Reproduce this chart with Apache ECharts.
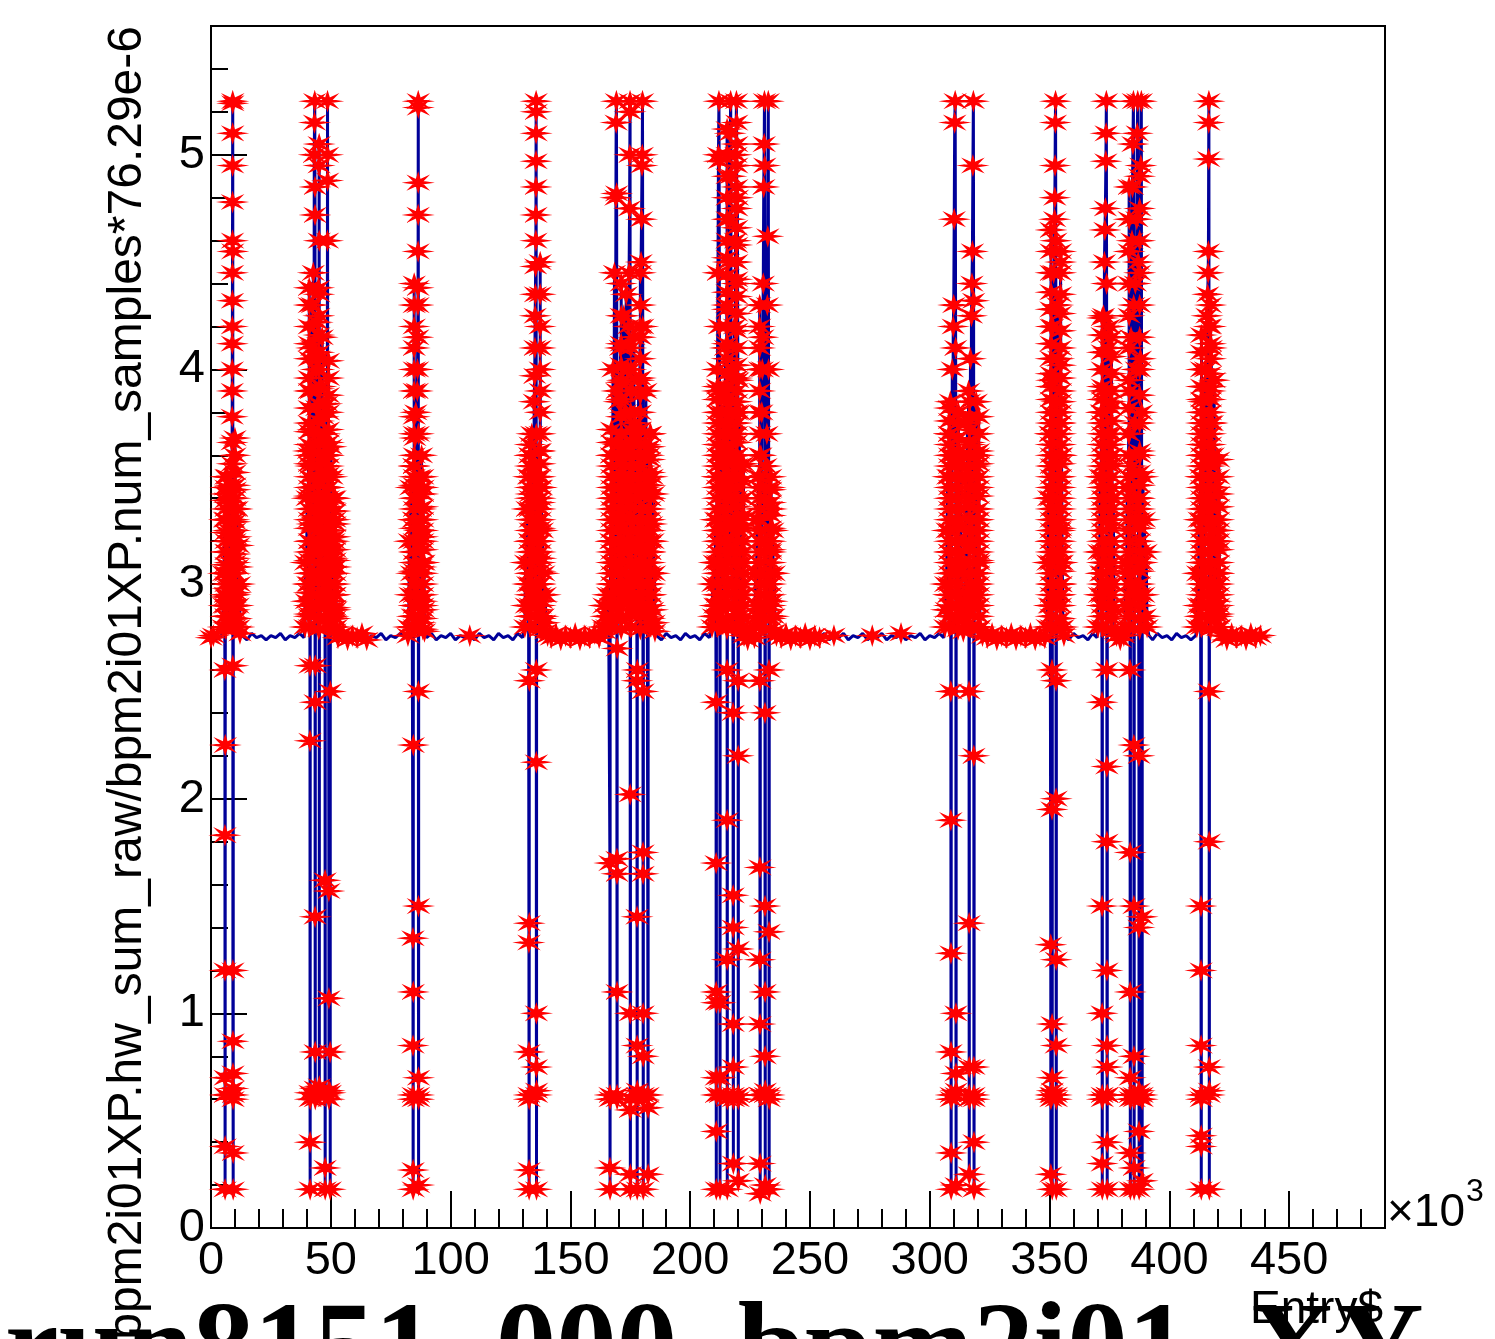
<!DOCTYPE html>
<html>
<head>
<meta charset="utf-8">
<script src="https://cdn.jsdelivr.net/npm/echarts@6/dist/echarts.min.js"></script>
<style>
html,body{margin:0;padding:0;background:#fff;}
#chart{width:1495px;height:1339px;}
</style>
</head>
<body>
<div id="chart"></div>
<script>
// ---- Data: Entry$ (x10^3) vs bpm2i01XP.hw_sum_raw/bpm2i01XP.num_samples*76.29e-6 ----
const xMajorTicks = [0, 50, 100, 150, 200, 250, 300, 350, 400, 450];
const yMajorTicks = [0, 1, 2, 3, 4, 5];

// baseline stretches between beam trips
const base0 = [[0,2.75],[1,2.76],[2,2.74],[3,2.76],[4,2.75],[4.6,2.77]];
const base1 = [[13,2.76],[15,2.74],[17,2.77],[19,2.75],[21,2.76],[23,2.74],[25,2.76],[27,2.75],[29,2.77],[31,2.74],[33,2.76],[35,2.75],[37,2.77],[38.8,2.75]];
const base2 = [[53,2.75],[55,2.77],[57,2.74],[59,2.76],[61,2.75],[63,2.77],[65,2.74],[67,2.76],[69,2.75],[71,2.77],[73,2.74],[75,2.76],[77,2.75],[79,2.77],[81,2.75],[82.2,2.76]];
const base3 = [[90,2.75],[92,2.77],[94,2.74],[96,2.76],[98,2.75],[100,2.77],[102,2.74],[104,2.76],[106,2.75],[108,2.76],[110,2.74],[112,2.77],[114,2.75],[116,2.76],[118,2.74],[120,2.77],[122,2.75],[124,2.76],[126,2.74],[128,2.77],[130,2.75]];
const base4 = [[140.5,2.76],[142,2.75],[144,2.77],[146,2.74],[148,2.76],[150,2.75],[152,2.77],[154,2.74],[156,2.76],[158,2.75],[160,2.77],[162,2.75],[163,2.76]];
const base5 = [[186,2.76],[188,2.74],[190,2.77],[192,2.75],[194,2.76],[196,2.74],[198,2.77],[200,2.75],[202,2.76],[204,2.74],[206,2.77],[208,2.75]];
const base6 = [[222.5,2.76],[224,2.74],[225.5,2.77],[226.8,2.75]];
const base7 = [[236,2.76],[238,2.75],[240,2.77],[242,2.74],[244,2.76],[246,2.75],[248,2.77],[250,2.74],[252,2.76],[254,2.75],[256,2.77],[258,2.74],[260,2.76],[262,2.75],[264,2.77],[266,2.74],[268,2.76],[270,2.75],[272,2.77],[274,2.74],[276,2.76],[278,2.75],[280,2.77],[282,2.74],[284,2.76],[286,2.75],[288,2.77],[290,2.74],[292,2.76],[294,2.75],[296,2.77],[298,2.74],[300,2.76],[302,2.75],[304,2.77],[305.8,2.75]];
const base8 = [[322,2.76],[324,2.75],[326,2.77],[328,2.74],[330,2.76],[332,2.75],[334,2.77],[336,2.74],[338,2.76],[340,2.75],[342,2.77],[344,2.74],[346,2.76],[348,2.75]];
const base9 = [[356,2.76],[358,2.74],[360,2.77],[362,2.75],[364,2.76],[366,2.74],[368,2.77],[369.8,2.75]];
const base10 = [[378,2.76],[379.5,2.74],[381,2.76]];
const base11 = [[391.5,2.76],[393,2.74],[395,2.77],[397,2.75],[399,2.76],[401,2.74],[403,2.77],[405,2.75],[407,2.76],[409,2.74],[411,2.76]];
const base12 = [[422,2.76],[424,2.74],[426,2.77],[428,2.75],[430,2.76],[432,2.74],[434,2.77],[436,2.75],[438,2.76]];

// beam-trip bursts (sequential samples)
const burstA = [[5.0,2.8],[5.2,3.05],[5.4,2.9],[5.6,3.3],[5.8,2.6],[5.82,1.83],[5.84,1.2],[5.86,0.62],[5.88,0.18],[5.9,0.38],[5.92,0.7],[5.94,2.25],[6.0,2.95],[6.2,3.42],[6.4,2.85],[6.6,3.15],[6.8,3.5],[7.0,2.98],[7.2,3.25],[7.4,2.82],[7.6,3.38],[7.8,3.1],[8.0,2.92],[8.2,3.46],[8.4,3.2],[8.6,3.02],[8.8,3.56],[8.82,3.66],[8.84,3.78],[8.86,3.9],[8.88,4.0],[8.9,4.12],[8.92,4.2],[8.94,4.32],[8.96,4.45],[8.98,4.6],[9.0,4.78],[9.02,4.95],[9.04,5.1],[9.06,5.25],[9.08,5.24],[9.1,4.55],[9.12,2.62],[9.14,1.2],[9.16,0.87],[9.18,0.72],[9.2,0.65],[9.22,0.6],[9.24,0.35],[9.26,0.18],[9.28,0.62],[9.3,2.95],[9.5,3.3],[9.7,2.88],[9.9,3.12],[10.1,3.44],[10.3,2.96],[10.5,3.22],[10.7,2.84],[10.9,3.35],[11.1,3.08],[11.3,2.9],[11.5,3.18],[11.7,2.8],[11.9,3.0],[12.1,2.77]];
const burstB = [[39.2,2.8],[39.5,3.1],[39.8,2.92],[40.1,3.4],[40.4,3.0],[40.7,3.62],[41.0,2.86],[41.3,2.62],[41.32,2.27],[41.34,0.63],[41.36,0.4],[41.38,0.18],[41.4,0.6],[41.42,3.2],[41.6,3.55],[41.8,3.9],[42.0,4.1],[42.1,3.28],[42.3,4.3],[42.5,3.72],[42.7,4.45],[42.9,3.05],[43.1,5.0],[43.2,5.15],[43.3,5.25],[43.4,4.85],[43.42,4.72],[43.44,2.45],[43.46,1.45],[43.48,0.82],[43.5,0.65],[43.52,0.6],[43.54,2.62],[43.7,3.35],[43.9,4.0],[44.1,3.82],[44.3,4.22],[44.5,2.95],[44.7,3.48],[44.9,4.38],[45.1,4.05],[45.12,4.95],[45.14,5.05],[45.16,4.6],[45.18,2.9],[45.2,0.62],[45.22,0.66],[45.24,3.15],[45.4,3.66],[45.6,2.84],[45.8,3.92],[46.0,3.25],[46.2,3.58],[46.4,4.15],[46.6,3.02],[46.8,3.78],[47.0,3.42],[47.2,2.9],[47.4,3.7],[47.6,3.1],[47.62,1.62],[47.64,0.28],[47.66,0.18],[47.68,0.62],[47.7,3.52],[47.9,3.3],[48.1,2.98],[48.3,3.84],[48.5,3.18],[48.6,4.6],[48.62,5.0],[48.64,5.25],[48.66,4.88],[48.68,3.6],[48.8,3.05],[49.0,3.45],[49.2,1.57],[49.22,1.07],[49.24,0.64],[49.26,0.6],[49.28,2.88],[49.5,3.38],[49.7,3.0],[49.72,0.82],[49.74,0.63],[49.76,0.18],[49.78,2.5],[49.9,3.25],[50.1,3.64],[50.3,2.92],[50.5,3.5],[50.7,3.12],[50.9,2.85],[51.1,3.4],[51.3,3.2],[51.5,2.95],[51.7,3.3],[51.9,2.88],[52.1,3.08],[52.3,2.8]];
const burstC = [[82.5,2.8],[82.8,3.2],[83.1,2.95],[83.4,3.45],[83.7,3.05],[84.0,2.85],[84.3,1.35],[84.32,0.85],[84.34,0.62],[84.36,0.27],[84.38,0.18],[84.4,0.6],[84.42,1.1],[84.44,2.25],[84.5,3.3],[84.7,3.55],[84.9,2.9],[85.1,3.68],[85.3,3.15],[85.5,3.8],[85.7,3.0],[85.9,3.4],[86.1,3.9],[86.2,4.0],[86.3,4.15],[86.4,4.3],[86.42,4.38],[86.44,4.55],[86.46,4.72],[86.48,4.87],[86.5,5.25],[86.52,5.22],[86.54,3.7],[86.56,2.5],[86.58,1.5],[86.6,0.7],[86.62,0.62],[86.64,0.2],[86.66,0.6],[86.68,2.9],[86.9,3.25],[87.1,3.5],[87.3,2.82],[87.5,3.35],[87.7,3.08],[87.9,3.6],[88.1,2.92],[88.3,3.22],[88.5,3.45],[88.7,2.88],[88.9,3.1],[89.1,2.78]];
const burstD = [[131.0,2.8],[131.3,3.1],[131.6,2.9],[131.9,3.35],[132.2,3.0],[132.5,3.5],[132.7,1.33],[132.72,0.82],[132.74,0.62],[132.76,0.27],[132.78,0.18],[132.8,0.6],[132.82,1.42],[132.84,2.55],[132.9,3.2],[133.1,3.6],[133.3,2.85],[133.5,3.42],[133.7,3.05],[133.9,3.7],[134.1,3.25],[134.3,2.95],[134.5,3.55],[134.7,3.15],[134.9,3.85],[135.1,3.97],[135.2,4.1],[135.3,4.25],[135.4,4.35],[135.5,4.48],[135.6,4.6],[135.62,4.72],[135.64,4.85],[135.66,4.97],[135.68,5.1],[135.7,5.25],[135.72,5.2],[135.74,3.7],[135.76,2.6],[135.78,2.17],[135.8,1.0],[135.82,0.75],[135.84,0.62],[135.86,0.18],[135.88,0.64],[135.9,2.9],[136.1,3.3],[136.3,3.5],[136.5,2.88],[136.7,3.2],[136.9,3.62],[137.1,3.0],[137.3,3.38],[137.5,2.84],[137.7,3.12],[137.9,3.45],[138.1,2.92],[138.3,3.25],[138.6,2.85],[138.9,3.05],[139.2,2.82],[139.5,2.95],[139.8,2.78]];
const burstE = [[163.6,2.8],[164.0,2.9],[164.4,2.78],[164.8,2.85],[165.2,2.8],[165.6,2.95],[166.0,2.82],[166.5,1.7],[166.52,0.62],[166.54,0.28],[166.56,0.18],[166.58,0.6],[166.6,2.9],[166.9,3.2],[167.2,3.6],[167.5,3.0],[167.8,4.0],[168.1,3.4],[168.4,4.45],[168.7,3.1],[169.0,4.8],[169.1,5.15],[169.2,5.25],[169.3,4.82],[169.4,3.9],[169.42,1.72],[169.44,1.65],[169.46,1.1],[169.48,0.62],[169.5,0.6],[169.52,2.7],[169.7,3.3],[169.9,3.65],[170.1,2.9],[170.3,3.85],[170.5,3.25],[170.7,3.5],[170.9,4.1],[171.1,3.05],[171.3,3.7],[171.5,2.85],[171.7,3.95],[171.9,3.35],[172.1,3.15],[172.3,4.25],[172.5,3.55],[172.7,2.95],[172.9,3.8],[173.1,3.45],[173.3,4.35],[173.5,3.0],[173.7,3.62],[173.9,4.0],[174.1,3.2],[174.3,4.2],[174.5,4.45],[174.7,4.75],[174.8,5.0],[174.9,5.25],[174.92,5.2],[174.94,3.4],[174.96,2.02],[174.98,1.0],[175.0,0.55],[175.02,0.25],[175.04,0.18],[175.06,0.6],[175.08,2.8],[175.3,3.5],[175.5,3.1],[175.7,3.9],[175.9,2.88],[176.1,3.6],[176.3,3.3],[176.5,4.15],[176.7,3.02],[176.9,3.75],[177.1,3.4],[177.3,2.92],[177.5,3.68],[177.8,2.55],[177.82,1.45],[177.84,0.85],[177.86,0.62],[177.88,0.18],[177.9,0.64],[177.92,2.6],[178.1,3.2],[178.3,3.55],[178.5,3.95],[178.7,3.08],[178.9,3.72],[179.1,4.2],[179.3,3.35],[179.5,4.5],[179.7,4.7],[179.9,4.95],[180.0,5.0],[180.1,5.25],[180.2,4.2],[180.3,2.5],[180.32,1.75],[180.34,1.65],[180.36,1.0],[180.38,0.8],[180.4,0.62],[180.42,0.18],[180.44,0.6],[180.46,2.9],[180.7,3.45],[180.9,3.1],[181.1,3.65],[181.3,2.85],[181.5,3.9],[181.7,3.25],[181.9,3.5],[182.1,3.0],[182.4,0.62],[182.42,0.56],[182.44,0.25],[182.46,3.3],[182.7,3.6],[182.9,2.9],[183.1,3.4],[183.3,3.15],[183.5,3.7],[183.7,2.95],[183.9,3.28],[184.1,3.5],[184.3,2.88],[184.5,3.2],[184.7,3.42],[184.9,2.82],[185.1,3.05],[185.3,2.78]];
const burstF = [[209.1,2.8],[209.4,3.0],[209.7,2.85],[210.0,3.1],[210.3,2.9],[210.6,3.3],[210.8,2.45],[210.82,1.7],[210.84,1.1],[210.86,0.7],[210.88,0.45],[210.9,0.18],[210.92,0.62],[210.94,1.05],[210.96,2.9],[211.2,3.5],[211.4,3.9],[211.6,4.45],[211.8,5.0],[212.0,5.25],[212.1,4.97],[212.2,4.2],[212.4,3.1],[212.42,1.05],[212.44,0.62],[212.46,0.18],[212.48,0.7],[212.5,2.95],[212.7,3.6],[212.9,3.25],[213.1,3.8],[213.3,2.88],[213.5,3.45],[213.7,3.7],[213.9,3.05],[214.1,3.55],[214.3,3.9],[214.5,3.2],[214.7,4.1],[214.9,3.35],[215.1,3.75],[215.3,4.3],[215.4,2.6],[215.42,1.9],[215.44,1.25],[215.46,0.62],[215.48,0.18],[215.5,0.6],[215.52,2.8],[215.7,3.62],[215.9,4.5],[216.1,3.15],[216.3,3.85],[216.5,4.7],[216.7,5.1],[216.9,5.25],[217.0,4.9],[217.1,3.4],[217.3,4.0],[217.5,3.0],[217.7,3.5],[217.9,2.4],[217.92,1.55],[217.94,1.4],[217.96,0.95],[217.98,0.75],[218.0,0.62],[218.02,0.3],[218.04,0.6],[218.06,2.9],[218.3,3.7],[218.5,4.2],[218.7,3.3],[218.9,4.6],[219.1,5.0],[219.3,5.25],[219.4,4.4],[219.5,3.6],[219.7,4.8],[219.9,3.95],[220.0,2.55],[220.02,2.2],[220.04,1.3],[220.06,0.62],[220.08,0.22],[220.1,0.6],[220.12,2.85],[220.3,3.25],[220.5,3.8],[220.7,3.1],[220.9,3.55],[221.1,2.95],[221.3,3.3],[221.6,2.8]];
const burstG = [[227.0,2.8],[227.3,3.05],[227.6,2.9],[227.9,3.3],[228.2,2.85],[228.5,3.5],[228.8,3.1],[229.1,2.55],[229.12,1.68],[229.14,1.25],[229.16,0.95],[229.18,0.62],[229.2,0.3],[229.22,0.16],[229.24,0.62],[229.26,2.9],[229.5,3.6],[229.7,3.2],[229.9,3.8],[230.1,4.0],[230.3,4.15],[230.5,4.4],[230.7,4.85],[230.9,5.05],[231.0,5.25],[231.1,4.95],[231.2,3.4],[231.22,2.4],[231.24,1.5],[231.26,1.1],[231.28,0.8],[231.3,0.62],[231.32,0.2],[231.34,0.64],[231.36,2.95],[231.6,3.55],[231.8,3.0],[232.0,3.7],[232.2,4.3],[232.4,4.62],[232.6,5.25],[232.7,4.0],[232.9,2.6],[232.92,1.38],[232.94,0.62],[232.96,0.18],[232.98,0.6],[233.0,2.88],[233.3,3.45],[233.6,3.15],[233.9,3.35],[234.2,2.92],[234.5,3.25],[234.8,2.85],[235.1,3.05],[235.4,2.78]];
const burstH = [[306.3,2.8],[306.6,3.0],[306.9,2.88],[307.2,3.25],[307.5,3.5],[307.8,2.95],[308.1,3.7],[308.4,3.15],[308.6,3.85],[308.8,2.5],[308.82,1.9],[308.84,1.28],[308.86,0.82],[308.88,0.62],[308.9,0.35],[308.92,0.18],[308.94,0.6],[308.96,2.9],[309.2,3.4],[309.4,4.0],[309.6,3.6],[309.8,4.2],[310.0,4.3],[310.2,4.7],[310.4,5.15],[310.6,5.25],[310.8,4.1],[310.9,3.2],[310.92,1.0],[310.94,0.72],[310.96,0.62],[310.98,0.2],[311.0,0.64],[311.02,2.85],[311.3,3.55],[311.6,3.05],[311.9,3.8],[312.2,3.3],[312.5,2.9],[312.8,3.6],[313.1,3.1],[313.5,2.85],[314.0,2.78],[314.5,2.82],[314.8,3.2],[315.1,3.5],[315.4,2.95],[315.7,3.75],[316.0,3.4],[316.2,3.9],[316.4,2.5],[316.42,1.42],[316.44,0.75],[316.46,0.62],[316.48,0.25],[316.5,0.6],[316.52,2.9],[316.8,3.65],[317.0,4.05],[317.2,3.25],[317.4,4.25],[317.6,4.4],[317.8,4.55],[318.0,4.95],[318.2,5.25],[318.3,4.32],[318.4,2.2],[318.42,0.75],[318.44,0.62],[318.46,0.4],[318.48,0.18],[318.5,0.6],[318.52,2.95],[318.8,3.55],[319.1,3.0],[319.4,3.85],[319.7,3.3],[320.0,2.9],[320.3,3.6],[320.6,3.1],[321.0,2.8]];
const burstI = [[349.0,2.8],[349.3,3.1],[349.6,3.4],[349.9,2.9],[350.2,3.7],[350.5,1.32],[350.52,0.62],[350.54,0.25],[350.56,0.6],[350.58,3.2],[350.8,3.95],[351.0,2.6],[351.02,1.95],[351.04,0.95],[351.06,0.7],[351.08,0.62],[351.1,0.18],[351.12,0.64],[351.14,3.0],[351.3,4.2],[351.5,3.55],[351.7,4.45],[351.9,3.3],[352.1,4.7],[352.2,4.8],[352.3,4.95],[352.4,5.15],[352.5,5.25],[352.6,4.6],[352.7,2.55],[352.72,2.0],[352.74,1.25],[352.76,0.85],[352.78,0.62],[352.8,0.18],[352.82,0.6],[352.84,2.9],[353.0,3.85],[353.2,3.15],[353.4,4.3],[353.6,3.5],[353.8,4.05],[354.0,2.95],[354.2,3.75],[354.4,3.25],[354.6,4.5],[354.8,3.0],[355.0,3.6],[355.3,3.1],[355.6,2.8]];
const burstJ = [[370.2,2.8],[370.5,3.15],[370.8,2.95],[371.1,3.5],[371.4,3.05],[371.6,3.8],[371.9,2.45],[371.92,1.5],[371.94,1.0],[371.96,0.62],[371.98,0.3],[372.0,0.18],[372.02,0.6],[372.04,2.9],[372.3,3.9],[372.5,4.25],[372.7,3.4],[372.9,4.5],[373.1,4.65],[373.3,4.75],[373.5,4.97],[373.6,5.1],[373.7,5.25],[373.8,4.4],[373.9,2.6],[373.92,2.15],[373.94,1.8],[373.96,1.2],[373.98,0.85],[374.0,0.75],[374.02,0.62],[374.04,0.4],[374.06,0.18],[374.08,0.62],[374.1,3.0],[374.4,3.7],[374.6,4.1],[374.8,3.3],[375.0,4.2],[375.2,3.55],[375.4,2.9],[375.6,3.85],[375.8,3.2],[376.0,3.6],[376.3,3.0],[376.6,3.4],[376.9,2.88],[377.3,2.78]];
const burstK = [[381.5,2.8],[381.8,3.1],[382.1,2.9],[382.4,3.45],[382.7,3.05],[383.0,3.7],[383.3,3.9],[383.6,2.6],[383.62,1.75],[383.64,1.1],[383.66,0.7],[383.68,0.62],[383.7,0.35],[383.72,0.18],[383.74,0.6],[383.76,3.0],[384.0,4.15],[384.2,3.55],[384.4,4.6],[384.6,4.85],[384.8,5.05],[385.0,5.25],[385.1,4.3],[385.2,2.25],[385.22,1.5],[385.24,0.8],[385.26,0.62],[385.28,0.28],[385.3,0.18],[385.32,0.6],[385.34,2.95],[385.6,3.75],[385.8,4.4],[386.0,3.3],[386.2,4.0],[386.4,4.7],[386.6,5.1],[386.8,5.25],[387.0,4.5],[387.1,3.4],[387.3,2.2],[387.32,1.4],[387.34,0.62],[387.36,0.45],[387.38,0.18],[387.4,0.64],[387.42,2.9],[387.7,3.6],[387.9,4.05],[388.1,4.95],[388.3,5.25],[388.4,3.8],[388.6,1.45],[388.62,0.62],[388.64,0.22],[388.66,0.6],[388.68,3.1],[389.0,3.5],[389.3,2.95],[389.6,3.3],[389.9,2.85],[390.3,3.15],[390.7,2.8]];
const burstL = [[411.5,2.8],[411.8,3.05],[412.1,2.9],[412.4,3.3],[412.7,2.85],[413.0,3.5],[413.2,1.5],[413.22,1.2],[413.24,0.85],[413.26,0.62],[413.28,0.43],[413.3,0.38],[413.32,0.18],[413.34,0.6],[413.36,2.9],[413.6,3.6],[413.9,3.2],[414.2,3.85],[414.5,3.0],[414.8,3.7],[415.1,4.0],[415.4,3.4],[415.7,4.25],[416.0,4.35],[416.2,4.45],[416.3,4.55],[416.4,4.98],[416.45,5.15],[416.5,5.25],[416.55,4.2],[416.6,2.5],[416.62,1.8],[416.64,0.75],[416.66,0.62],[416.68,0.18],[416.7,0.64],[416.72,2.95],[416.9,3.55],[417.1,3.9],[417.3,3.15],[417.5,4.1],[417.7,3.35],[417.9,3.75],[418.1,2.88],[418.3,3.6],[418.5,3.25],[418.7,3.95],[418.9,3.0],[419.2,3.45],[419.5,2.92],[419.8,3.2],[420.1,2.85],[420.5,3.05],[421.1,2.8]];

// densely populated parts of each burst: [entry, [values...]]
const denseA = [[6.2,[2.79,2.85,2.9,2.94,3.0,3.05,3.09,3.15,3.2,3.24,3.3,3.35,3.39,3.45,3.5]],[10.0,[2.8,2.84,2.9,2.95,2.99,3.05,3.1,3.14,3.2,3.25,3.29,3.35,3.4,3.46,3.52,3.6,3.68]]];
const denseB = [[41.0,[2.8,2.85,2.9,2.96,3.0,3.05,3.11,3.15,3.2,3.26,3.3,3.35,3.41,3.45,3.5,3.56,3.6,3.65,3.71,3.75,3.82,3.9,3.96,4.05,4.12,4.2,4.3,4.38]],[45.0,[2.79,2.84,2.9,2.95,3.01,3.05,3.1,3.16,3.2,3.25,3.31,3.35,3.4,3.46,3.5,3.55,3.61,3.65,3.7,3.76,3.84,3.91,4.0,4.08,4.16,4.25,4.35]],[49.0,[2.8,2.86,2.9,2.95,3.0,3.06,3.1,3.15,3.21,3.25,3.3,3.36,3.4,3.45,3.51,3.55,3.6,3.66,3.72,3.8,3.88,3.96,4.04]],[51.8,[2.78,2.84,2.89,2.95,3.0,3.05,3.11,3.16,3.22,3.28,3.34,3.4]]];
const denseC = [[84.8,[2.8,2.85,2.9,2.95,3.0,3.06,3.1,3.15,3.2,3.26,3.3,3.35,3.4,3.46,3.5,3.55,3.6,3.7,3.78,3.9,4.0,4.1,4.2,4.3,4.4]],[88.4,[2.79,2.84,2.9,2.95,3.0,3.05,3.1,3.16,3.2,3.25,3.3,3.36,3.42,3.5]]];
const denseD = [[133.2,[2.8,2.85,2.9,2.95,3.0,3.05,3.1,3.15,3.2,3.25,3.3,3.35,3.4,3.45,3.5,3.55,3.6,3.65]],[137.4,[2.79,2.84,2.9,2.95,3.0,3.06,3.1,3.15,3.2,3.26,3.3,3.35,3.4,3.45,3.5,3.56,3.62,3.7,3.8,3.9,4.0,4.1,4.2,4.35,4.5]]];
const denseE = [[167.2,[2.8,2.85,2.9,2.95,3.0,3.05,3.1,3.15,3.2,3.25,3.3,3.35,3.4,3.45,3.5,3.55,3.6,3.66,3.72]],[171.2,[2.79,2.84,2.9,2.95,3.0,3.06,3.1,3.15,3.2,3.26,3.3,3.35,3.4,3.45,3.5,3.56,3.6,3.65,3.7,3.78,3.86,3.94,4.02,4.12,4.25,4.4]],[175.2,[2.8,2.86,2.9,2.95,3.0,3.05,3.1,3.16,3.2,3.25,3.3,3.36,3.4,3.45,3.5,3.55,3.6,3.66,3.72,3.8,3.9,4.0,4.1]],[179.2,[2.79,2.85,2.9,2.95,3.0,3.05,3.11,3.15,3.2,3.25,3.3,3.35,3.41,3.45,3.5,3.55,3.6,3.65,3.72,3.8,3.88,3.96,4.05,4.15,4.3,4.45]],[183.2,[2.8,2.84,2.9,2.95,3.0,3.05,3.1,3.15,3.2,3.25,3.3,3.35,3.4,3.46,3.52,3.58,3.64,3.7]]];
const denseF = [[211.4,[2.8,2.85,2.9,2.95,3.0,3.05,3.1,3.15,3.2,3.25,3.3,3.35,3.4,3.45,3.5,3.55,3.6,3.65,3.7,3.75,3.8,3.86,3.92,4.0]],[215.4,[2.79,2.84,2.9,2.95,3.0,3.06,3.1,3.15,3.2,3.26,3.3,3.35,3.4,3.45,3.5,3.56,3.6,3.65,3.7,3.75,3.8,3.86,3.92,3.98,4.05,4.12,4.2,4.28,4.36,4.44,4.52,4.6,4.7,4.8,4.9,5.0,5.12]],[219.4,[2.8,2.86,2.9,2.95,3.0,3.05,3.1,3.16,3.2,3.25,3.3,3.36,3.4,3.45,3.5,3.55,3.6,3.66,3.7,3.75,3.8,3.85,3.9,3.96,4.02,4.1,4.18,4.26,4.34,4.42,4.5,4.58,4.66,4.75,4.85,4.95,5.05,5.15]],[222.2,[2.79,2.84,2.9,2.95,3.0,3.05,3.1,3.15,3.2,3.26,3.32,3.4,3.48,3.56]]];
const denseG = [[229.0,[2.8,2.85,2.9,2.95,3.0,3.05,3.1,3.15,3.2,3.25,3.3,3.35,3.4,3.45,3.5,3.6,3.7,3.8,3.9,4.0,4.1,4.2,4.3]],[233.6,[2.79,2.84,2.9,2.95,3.0,3.05,3.1,3.16,3.2,3.26,3.32,3.38,3.44,3.5]]];
const denseH = [[308.2,[2.8,2.85,2.9,2.95,3.0,3.05,3.1,3.15,3.2,3.25,3.3,3.35,3.4,3.45,3.5,3.55,3.6,3.65,3.7,3.76,3.82]],[311.8,[2.79,2.84,2.9,2.95,3.0,3.06,3.1,3.15,3.2,3.26,3.3,3.35,3.4,3.45,3.5,3.56,3.62,3.68,3.75]],[316.6,[2.8,2.86,2.9,2.95,3.0,3.05,3.1,3.16,3.2,3.25,3.3,3.36,3.4,3.45,3.5,3.55,3.6,3.66,3.72,3.78,3.85]],[320.4,[2.79,2.85,2.9,2.95,3.0,3.05,3.11,3.15,3.2,3.25,3.3,3.35,3.41,3.45,3.5,3.56,3.62,3.7,3.78]]];
const denseI = [[350.6,[2.8,2.85,2.9,2.95,3.0,3.05,3.1,3.15,3.2,3.25,3.3,3.35,3.4,3.45,3.5,3.55,3.6,3.65,3.7,3.75,3.8,3.86,3.92,3.98,4.05,4.12,4.2,4.28,4.36,4.45,4.55,4.65]],[354.6,[2.79,2.84,2.9,2.95,3.0,3.06,3.1,3.15,3.2,3.26,3.3,3.35,3.4,3.45,3.5,3.56,3.6,3.65,3.7,3.75,3.8,3.85,3.9,3.96,4.02,4.1,4.18,4.26,4.35,4.45,4.55]]];
const denseJ = [[372.0,[2.8,2.85,2.9,2.95,3.0,3.05,3.1,3.15,3.2,3.25,3.3,3.35,3.4,3.45,3.5,3.55,3.6,3.65,3.7,3.75,3.8,3.86,3.92,4.0,4.08,4.16,4.24]],[375.8,[2.79,2.84,2.9,2.95,3.0,3.06,3.1,3.15,3.2,3.26,3.3,3.35,3.4,3.45,3.5,3.56,3.6,3.65,3.7,3.76,3.82,3.9,3.98,4.06,4.15]]];
const denseK = [[383.2,[2.8,2.85,2.9,2.95,3.0,3.05,3.1,3.15,3.2,3.25,3.3,3.35,3.4,3.45,3.5,3.6,3.7,3.82,3.95,4.1,4.25,4.4,4.55,4.7,4.85]],[387.6,[2.79,2.84,2.9,2.95,3.0,3.06,3.1,3.15,3.2,3.26,3.3,3.35,3.4,3.46,3.52,3.62,3.75,3.88,4.0,4.15,4.3,4.45,4.6,4.75,4.9]]];
const denseL = [[413.4,[2.8,2.85,2.9,2.95,3.0,3.05,3.1,3.15,3.2,3.25,3.3,3.35,3.4,3.45,3.5,3.55,3.6,3.65,3.7,3.75,3.8,3.86,3.92,4.0,4.08,4.16]],[417.2,[2.79,2.84,2.9,2.95,3.0,3.06,3.1,3.15,3.2,3.26,3.3,3.35,3.4,3.45,3.5,3.56,3.6,3.65,3.7,3.75,3.8,3.86,3.92,3.98,4.05,4.12,4.2,4.3]],[420.6,[2.8,2.86,2.9,2.95,3.0,3.05,3.1,3.16,3.2,3.25,3.3,3.36,3.42,3.5,3.58]]];

// entry ranges (x10^3) whose points are drawn with red markers
const selectedRanges = [[-1,1.5],[5,12.2],[39,66],[82,89.5],[107.5,108.5],[131,162.5],[163.5,185.5],[209,255.5],[259.5,260.5],[275.5,276.5],[287.5,288.5],[306,356],[370,391],[411.3,438.5]];

const denseAll = [denseA, denseB, denseC, denseD, denseE, denseF, denseG, denseH, denseI, denseJ, denseK, denseL]
  .flatMap(cols => cols.flatMap(([e, vals]) => vals.map(v => [e, v])));
const seqAll = [].concat(base0, burstA, base1, burstB, base2, burstC, base3, burstD, base4, burstE, base5, burstF,
  base6, burstG, base7, burstH, base8, burstI, base9, burstJ, base10, burstK, base11, burstL, base12);
const lineData = seqAll.concat(denseAll).sort((a, b) => a[0] - b[0]);
const markData = lineData.filter(p => selectedRanges.some(r => p[0] >= r[0] && p[0] <= r[1]));

const chart = echarts.init(document.getElementById('chart'), null, {renderer: 'canvas'});
const G = {left: 211, top: 26, width: 1174, height: 1202};
const labelFont = {fontFamily: 'Liberation Sans, Arial, sans-serif', fontSize: 47, color: '#000'};
const starPath = 'path://M5 0L5.69 3.34L8.54 1.46L6.66 4.31L10 5L6.66 5.69L8.54 8.54L5.69 6.66L5 10L4.31 6.66L1.46 8.54L3.34 5.69L0 5L3.34 4.31L1.46 1.46L4.31 3.34Z';

chart.setOption({
  animation: false,
  backgroundColor: '#fff',
  grid: [
    Object.assign({show: true, borderColor: '#000', borderWidth: 2, backgroundColor: 'transparent'}, G),
    Object.assign({show: false}, G)
  ],
  xAxis: [
    {type: 'value', gridIndex: 0, min: 0, max: 490, interval: 50, position: 'bottom',
     axisLine: {show: true, lineStyle: {color: '#000', width: 2}},
     axisTick: {show: true, inside: true, length: 37, lineStyle: {color: '#000', width: 2}},
     axisLabel: Object.assign({show: true, margin: 10, showMaxLabel: false,
       formatter: v => xMajorTicks.indexOf(v) >= 0 ? String(v) : ''}, labelFont),
     splitLine: {show: false}},
    {type: 'value', gridIndex: 1, min: 0, max: 490, interval: 10, position: 'bottom',
     axisLine: {show: false},
     axisTick: {show: true, inside: true, length: 19, lineStyle: {color: '#000', width: 2}},
     axisLabel: {show: false}, splitLine: {show: false}}
  ],
  yAxis: [
    {type: 'value', gridIndex: 0, min: 0, max: 5.6, interval: 1, position: 'left',
     axisLine: {show: true, lineStyle: {color: '#000', width: 2}},
     axisTick: {show: true, inside: true, length: 36, lineStyle: {color: '#000', width: 2}},
     axisLabel: Object.assign({show: true, margin: 6, showMaxLabel: false,
       formatter: v => yMajorTicks.indexOf(v) >= 0 ? String(v) : ''}, labelFont),
     splitLine: {show: false}},
    {type: 'value', gridIndex: 1, min: 0, max: 5.6, interval: 0.2, position: 'left',
     axisLine: {show: false},
     axisTick: {show: true, inside: true, length: 17, lineStyle: {color: '#000', width: 2}},
     axisLabel: {show: false}, splitLine: {show: false}}
  ],
  series: [
    {type: 'line', xAxisIndex: 0, yAxisIndex: 0, data: lineData, showSymbol: false, symbol: 'none',
     lineStyle: {color: '#000099', width: 3}, z: 2, silent: true},
    {type: 'scatter', xAxisIndex: 0, yAxisIndex: 0, data: markData, clip: false, large: false,
     symbol: starPath, symbolSize: [19, 13],
     itemStyle: {color: '#ff0000', borderColor: '#ff0000', borderWidth: 2.4, opacity: 1}, z: 3, silent: true}
  ],
  graphic: [
    {type: 'text', x: 128, y: 26, rotation: Math.PI / 2, z: 10,
     style: {text: 'bpm2i01XP.hw_sum_raw/bpm2i01XP.num_samples*76.29e-6', fill: '#000',
       font: '48px "Liberation Sans", Arial, sans-serif', align: 'right', verticalAlign: 'middle'}},
    {type: 'text', x: 1383, y: 1310, z: 10,
     style: {text: 'Entry$', fill: '#000', font: '46px "Liberation Sans", Arial, sans-serif',
       align: 'right', verticalAlign: 'middle'}},
    {type: 'text', x: 1387, y: 1213, z: 10,
     style: {text: '\u00d710', fill: '#000', font: '46px "Liberation Sans", Arial, sans-serif',
       align: 'left', verticalAlign: 'middle'}},
    {type: 'text', x: 1466, y: 1192, z: 10,
     style: {text: '3', fill: '#000', font: '32px "Liberation Sans", Arial, sans-serif',
       align: 'left', verticalAlign: 'middle'}},
    {type: 'text', x: 5, y: 1414, z: 11,
     style: {text: 'run8151_000_bpm2i01_XY', fill: '#000', font: 'bold 121px "Liberation Serif", "Times New Roman", serif',
       align: 'left', verticalAlign: 'bottom'}}
  ]
});
</script>
</body>
</html>
